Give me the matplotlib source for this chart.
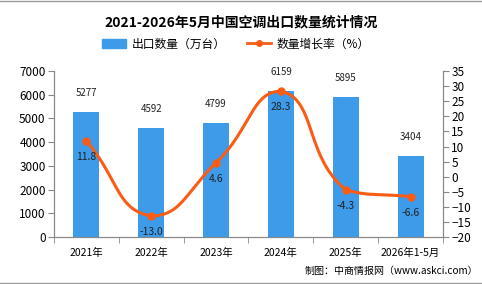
import numpy as np
import matplotlib
matplotlib.use("Agg")
import matplotlib.pyplot as plt
from matplotlib.lines import Line2D
from matplotlib.patches import Patch

plt.rcParams['font.family'] = ['Noto Sans CJK SC', 'DejaVu Sans']

# Datos del gráfico
categorias = ["2021年", "2022年", "2023年", "2024年", "2025年", "2026年1-5月"]
exportacion = [5277, 4592, 4799, 6159, 5895, 3404]
crecimiento = [11.8, -13.0, 4.6, 28.3, -4.3, -6.6]

color_barra = "#3d9be9"
color_linea = "#fa5c14"


# Curva suave con Bézier (estilo ECharts) que pasa por los puntos, solo para dibujar
def curva_suave(xs, ys, sx=65.0, sy=3.0, suave=0.5, pasos=40):
    P = np.column_stack([np.asarray(xs, float) * sx, np.asarray(ys, float) * sy])
    n = len(P)
    cps = []
    for i in range(n):
        prev = P[i - 1] if i > 0 else P[i]
        nxt = P[i + 1] if i < n - 1 else P[i]
        v = nxt - prev
        d0 = np.hypot(*(P[i] - prev))
        d1 = np.hypot(*(P[i] - nxt))
        s = d0 + d1
        if s > 0:
            d0, d1 = d0 / s, d1 / s
        c0 = P[i] - v * suave * d0
        c1 = P[i] + v * suave * d1
        # Se limitan los puntos de control al rectángulo del tramo
        c0 = np.clip(c0, np.minimum(prev, P[i]), np.maximum(prev, P[i]))
        c1 = np.clip(c1, np.minimum(nxt, P[i]), np.maximum(nxt, P[i]))
        cps.append((c0, c1))
    t = np.linspace(0, 1, pasos)[:, None]
    trozos = []
    for i in range(n - 1):
        p0, p3 = P[i], P[i + 1]
        c1, c2 = cps[i][1], cps[i + 1][0]
        trozos.append((1 - t) ** 3 * p0 + 3 * (1 - t) ** 2 * t * c1
                      + 3 * (1 - t) * t ** 2 * c2 + t ** 3 * p3)
    curva = np.vstack(trozos)
    return curva[:, 0] / sx, curva[:, 1] / sy


fig = plt.figure(figsize=(4.82, 2.84), dpi=100)
ax = fig.add_axes([0.112, 0.165, 0.807, 0.585])
ax2 = ax.twinx()

x = np.arange(len(categorias))
ax.bar(x, exportacion, width=0.4, color=color_barra, zorder=2)
for xi, v in zip(x, exportacion):
    ax.annotate(str(v), (xi, v), xytext=(0, 10), textcoords="offset points",
                ha="center", va="bottom", fontsize=7, color="#222222")

ax.set_xlim(-0.5, len(categorias) - 0.5)
ax.set_ylim(0, 7000)
ax.set_yticks(range(0, 7001, 1000))
ax.set_xticks(x)
ax.set_xticklabels(categorias, fontsize=7.5)
ax.set_xticks(np.arange(-0.5, len(categorias)), minor=True)
ax.tick_params(axis="x", which="major", length=0, pad=8)
ax.tick_params(axis="x", which="minor", length=4, color="#888888")
ax.tick_params(axis="y", labelsize=8.5, length=4, color="#888888", pad=2)

cx, cy = curva_suave(x, crecimiento)
ax2.plot(cx, cy, color=color_linea, lw=2.2, zorder=3)
ax2.plot(x, crecimiento, "o", color=color_linea, ms=5, zorder=4)
for xi, v in zip(x, crecimiento):
    ax2.annotate(f"{v:.1f}", (xi, v), xytext=(0, -8), textcoords="offset points",
                 ha="center", va="top", fontsize=7.5, color="#222222")
ax2.set_ylim(-20, 35)
ax2.set_yticks(range(-20, 36, 5))
ax2.tick_params(axis="y", labelsize=8.5, length=4, color="#888888", pad=2)

for a in (ax, ax2):
    a.spines["top"].set_visible(False)
    for s in ("left", "right", "bottom"):
        a.spines[s].set_color("#888888")

fig.text(0.5, 0.92, "2021-2026年5月中国空调出口数量统计情况", ha="center",
         va="center", fontsize=10, fontweight="bold")

leyenda = [Patch(color=color_barra, label="出口数量（万台）"),
           Line2D([0], [0], color=color_linea, lw=2, marker="o", ms=4,
                  label="数量增长率（%）")]
fig.legend(handles=leyenda, loc="center", bbox_to_anchor=(0.49, 0.845), ncol=2,
           frameon=False, fontsize=8.5, handlelength=2.0, handletextpad=0.5,
           columnspacing=1.8)

fig.text(0.993, 0.045, "制图：中商情报网（www.askci.com）", fontsize=7.2,
         ha="right", va="center")

fig.add_artist(Line2D([0, 1], [0.998, 0.998], color="#999999", lw=1))
fig.add_artist(Line2D([0, 1], [0.004, 0.004], color="#999999", lw=1))

fig.savefig("out.png", dpi=100)
